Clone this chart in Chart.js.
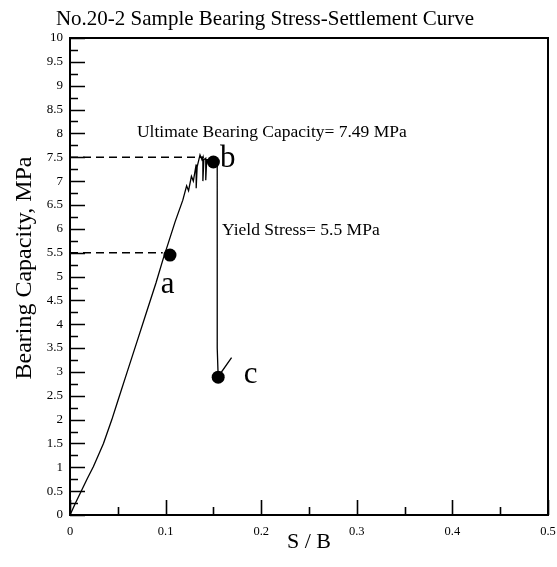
<!DOCTYPE html>
<html>
<head>
<meta charset="utf-8">
<script src="https://cdn.jsdelivr.net/npm/chart.js@4"></script>
<style>
    body { margin: 0; background: #fff; }
    canvas { display: block; }
</style>
</head>
<body>
<canvas id="grafico" width="557" height="567"></canvas>
<script>
// S/B vs bearing stress (MPa)
const settlement = [0, 0.006, 0.0122, 0.018, 0.0244, 0.03, 0.035, 0.0436, 0.05, 0.06, 0.07, 0.08, 0.09,
    0.0976, 0.1028, 0.11, 0.118, 0.122, 0.124, 0.127, 0.129, 0.132, 0.132, 0.133, 0.136, 0.138,
    0.139, 0.139, 0.14, 0.142, 0.142, 0.143, 0.147, 0.15, 0.153, 0.154, 0.154, 0.155, 0.169];
const stress = [0, 0.26, 0.52, 0.76, 1.01, 1.27, 1.5, 1.99, 2.39, 3.01, 3.63, 4.25, 4.87,
    5.38, 5.7, 6.15, 6.6, 6.9, 6.8, 7.1, 7.0, 7.35, 6.85, 7.3, 7.55, 7.45,
    7.5, 7.0, 7.45, 7.48, 7.02, 7.45, 7.45, 7.42, 7.45, 7.3, 3.5, 2.9, 3.3];

// marked points a, b, c
const markNames = ['a', 'b', 'c'];
const markX = [0.1046, 0.150, 0.155];
const markY = [5.45, 7.40, 2.89];

// dashed guide lines
const ultimateStress = 7.5;
const ultimateEndX = 0.14;
const yieldStress = 5.5;
const yieldEndX = 0.097;

const SERIF = '"Liberation Serif", "DejaVu Serif", serif';
const TITULO = 'No.20-2 Sample Bearing Stress-Settlement Curve';
const TITULO_Y = 'Bearing Capacity, MPa';

// texto y letras sobre el grafico (x = borde izq./centro, y = linea base), en coordenadas de datos
const notas = [
    { text: 'Ultimate Bearing Capacity= 7.49 MPa', x: 0.070, y: 7.92, size: 17.5, align: 'left' },
    { text: 'Yield Stress= 5.5 MPa', x: 0.159, y: 5.87, size: 17.5, align: 'left' },
    { text: markNames[0], x: 0.102, y: 4.65, size: 31, align: 'center' },
    { text: markNames[1], x: 0.165, y: 7.30, size: 31, align: 'center' },
    { text: markNames[2], x: 0.189, y: 2.77, size: 31, align: 'center' }
];

const marcoYTicks = {
    id: 'marcoYTicks',
    afterDatasetsDraw(chart) {
        const { ctx, chartArea: a, scales: { x, y } } = chart;
        ctx.save();
        ctx.strokeStyle = '#000';
        ctx.lineWidth = 1.6;
        // ticks hacia adentro
        ctx.beginPath();
        for (let i = 0; i <= 40; i++) {
            const py = Math.round(y.getPixelForValue(i * 0.25)) + 0.5;
            const len = i % 2 === 0 ? 15 : 8;
            ctx.moveTo(a.left, py);
            ctx.lineTo(a.left + len, py);
        }
        for (let i = 0; i <= 10; i++) {
            const px = Math.round(x.getPixelForValue(i * 0.05)) + 0.5;
            const len = i % 2 === 0 ? 15 : 8;
            ctx.moveTo(px, a.bottom);
            ctx.lineTo(px, a.bottom - len);
        }
        ctx.stroke();
        ctx.lineWidth = 2;
        ctx.strokeRect(a.left, a.top, a.right - a.left, a.bottom - a.top);

        ctx.fillStyle = '#000';
        ctx.textBaseline = 'alphabetic';
        notas.forEach(n => {
            ctx.font = `${n.size}px ${SERIF}`;
            ctx.textAlign = n.align;
            ctx.fillText(n.text, x.getPixelForValue(n.x), y.getPixelForValue(n.y));
        });

        // titulo y titulo del eje y
        ctx.textAlign = 'center';
        ctx.font = `21px ${SERIF}`;
        ctx.fillText(TITULO, 265, 25);
        ctx.translate(31, 268);
        ctx.rotate(-Math.PI / 2);
        ctx.font = `24px ${SERIF}`;
        ctx.fillText(TITULO_Y, 0, 0);
        ctx.restore();
    }
};

const etiqueta = v => `${Number(v.toFixed(2))}`;

new Chart(document.getElementById('grafico'), {
    type: 'scatter',
    data: {
        datasets: [
            {
                data: markX.map((v, i) => ({ x: v, y: markY[i] })),
                showLine: false,
                pointRadius: 6.5,
                pointBackgroundColor: '#000',
                pointBorderWidth: 0,
                order: 0
            },
            {
                data: settlement.map((v, i) => ({ x: v, y: stress[i] })),
                showLine: true,
                borderColor: '#000',
                borderWidth: 1.3,
                pointRadius: 0,
                tension: 0,
                order: 1
            },
            {
                data: [{ x: 0, y: ultimateStress }, { x: ultimateEndX, y: ultimateStress }],
                showLine: true,
                borderColor: '#000',
                borderWidth: 1.5,
                borderDash: [8, 5],
                pointRadius: 0,
                order: 2
            },
            {
                data: [{ x: 0, y: yieldStress }, { x: yieldEndX, y: yieldStress }],
                showLine: true,
                borderColor: '#000',
                borderWidth: 1.5,
                borderDash: [8, 5],
                pointRadius: 0,
                order: 2
            }
        ]
    },
    options: {
        responsive: false,
        animation: false,
        layout: { padding: { right: 0, left: 0, top: 38, bottom: 0 } },
        plugins: {
            legend: { display: false },
            tooltip: { enabled: false },
            title: { display: false }
        },
        scales: {
            x: {
                type: 'linear',
                min: 0,
                max: 0.5,
                grid: { display: false, drawTicks: false },
                border: { display: false },
                ticks: {
                    stepSize: 0.1,
                    padding: 9,
                    color: '#000',
                    font: { family: SERIF, size: 12.5 },
                    maxRotation: 0,
                    callback: etiqueta
                },
                title: {
                    display: true,
                    text: 'S / B',
                    color: '#000',
                    font: { family: SERIF, size: 22 },
                    padding: { top: 0, bottom: 12 }
                },
                afterFit(scale) {
                    scale.height = 52;
                    scale.paddingLeft = 0;
                    scale.paddingRight = 9;
                }
            },
            y: {
                type: 'linear',
                min: 0,
                max: 10,
                grid: { display: false, drawTicks: false },
                border: { display: false },
                ticks: {
                    stepSize: 0.5,
                    padding: 7,
                    color: '#000',
                    font: { family: SERIF, size: 13 },
                    callback: etiqueta
                },
                title: { display: false },
                afterFit(scale) {
                    scale.width = 70;
                    scale.paddingTop = 0;
                    scale.paddingBottom = 0;
                }
            }
        }
    },
    plugins: [marcoYTicks]
});
</script>
</body>
</html>
